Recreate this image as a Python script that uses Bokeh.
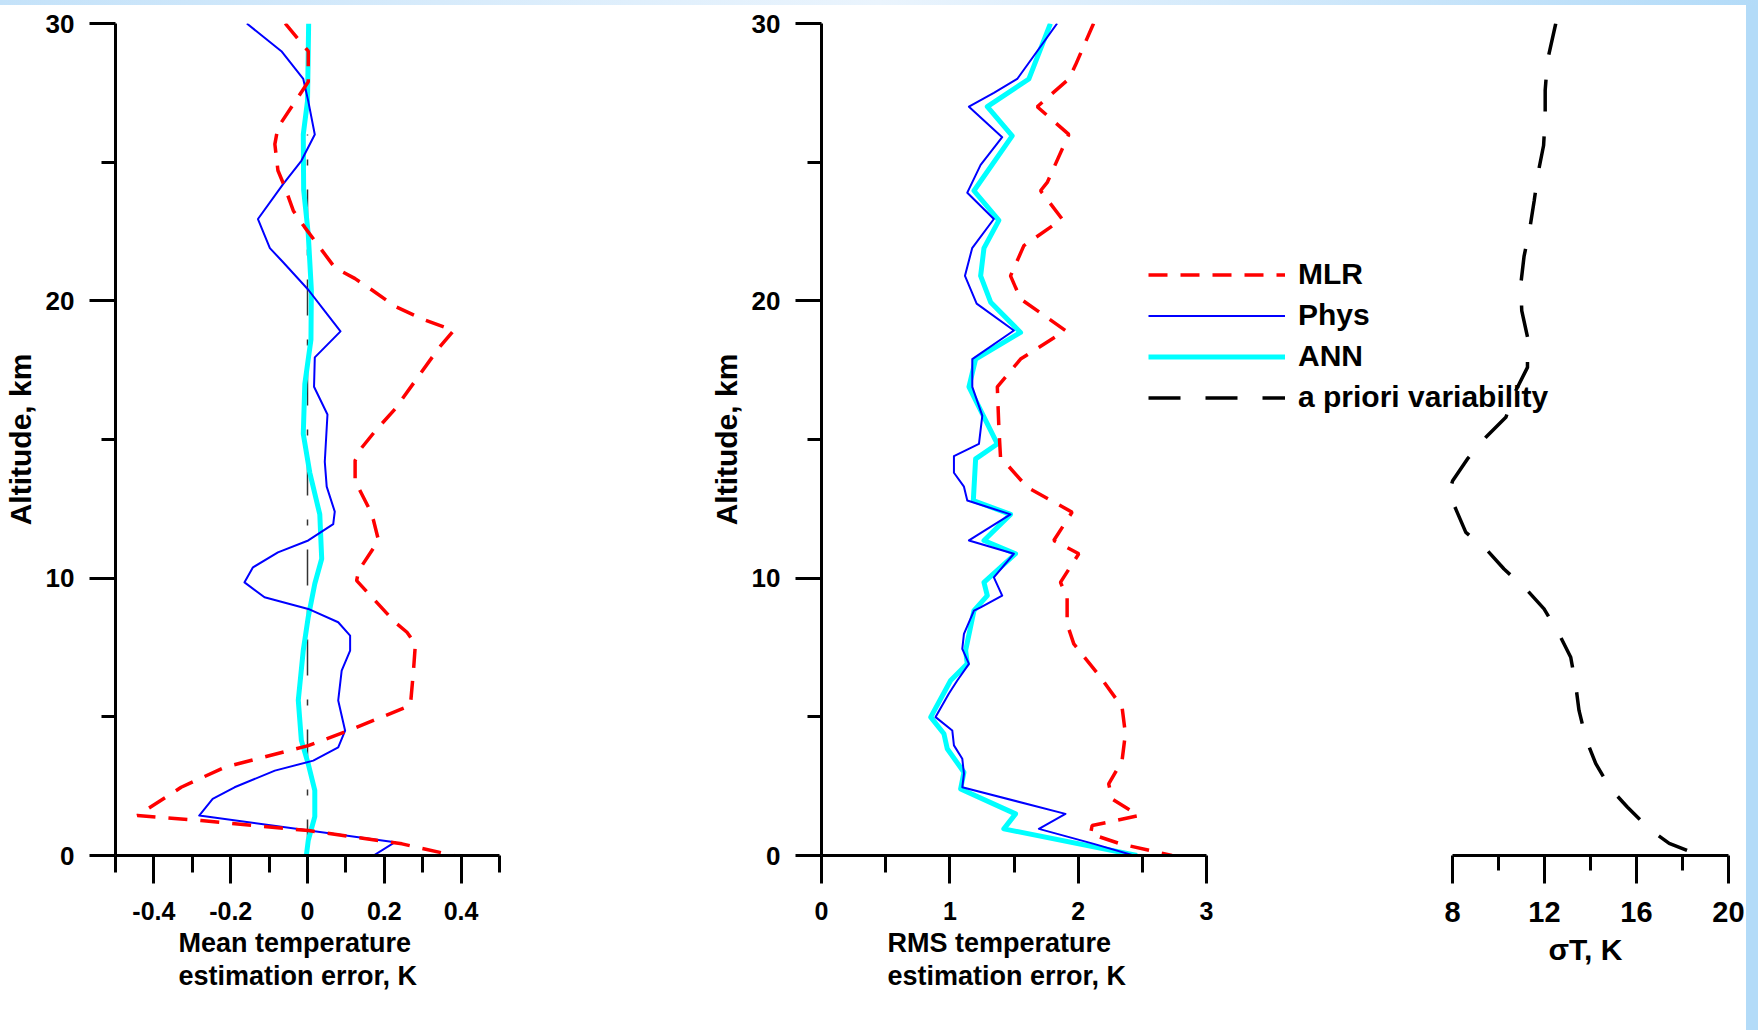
from bokeh.plotting import figure
from bokeh.models import Range1d, FixedTicker, Legend, LegendItem, Div, Title
from bokeh.layouts import row, column
from bokeh.embed import file_html
from bokeh.resources import INLINE

# ---------------- data ----------------
# Left panel: mean temperature estimation error (K) vs altitude (km)
mean_mlr_alt = [30.0, 29.0, 27.9, 26.25, 25.65, 24.7, 24.1, 23.25, 22.65, 21.2, 20.8, 20.4, 19.8,
                19.35, 18.93, 18.3, 16.1, 15.3, 14.7, 14.24, 13.5, 12.55, 12.08, 11.36, 10.27, 9.91,
                9.19, 8.41, 8.05, 7.63, 6.67, 5.41, 4.5, 3.96, 3.18, 2.46, 1.44, 1.26, 0.9, 0.42, 0.0]
mean_mlr_err = [-0.058, 0.002, 0.002, -0.077, -0.085, -0.077, -0.059, -0.037, -0.007, 0.071, 0.124,
                0.167, 0.228, 0.298, 0.381, 0.342, 0.228, 0.176, 0.141, 0.124, 0.124, 0.159, 0.172,
                0.185, 0.133, 0.128, 0.176, 0.228, 0.259, 0.281, 0.276, 0.268, 0.106, 0.002, -0.216,
                -0.329, -0.443, -0.277, 0.002, 0.246, 0.381]

mean_phys_alt = [30.0, 29.0, 28.0, 27.2, 26.0, 25.05, 24.2, 22.95, 21.9, 21.4, 20.4, 19.7, 18.9,
                 17.96, 16.9, 15.9, 14.2, 13.3, 12.4, 11.95, 11.36, 10.93, 10.39, 9.85, 9.31, 8.89,
                 8.41, 7.93, 7.39, 6.67, 5.59, 4.5, 3.9, 3.42, 3.06, 2.46, 2.04, 1.44, 0.48, 0.0]
mean_phys_err = [-0.158, -0.068, -0.011, 0.002, 0.019, -0.016, -0.064, -0.129, -0.098, -0.064,
                 0.002, 0.041, 0.086, 0.019, 0.017, 0.052, 0.045, 0.05, 0.071, 0.067, 0.002, -0.077,
                 -0.142, -0.164, -0.112, 0.002, 0.08, 0.111, 0.111, 0.089, 0.08, 0.098, 0.08, 0.015,
                 -0.085, -0.19, -0.247, -0.282, 0.228, 0.172]

mean_ann_alt = [30.0, 27.2, 26.0, 24.0, 22.4, 20.4, 18.6, 17.0, 15.2, 13.8, 12.3, 10.7, 9.8, 8.6,
                7.4, 5.6, 4.15, 3.3, 2.35, 1.4, 0.55, 0.0]
mean_ann_err = [0.003, 0.0, -0.011, -0.01, 0.002, 0.01, 0.009, -0.007, -0.011, 0.006, 0.032, 0.037,
                0.019, 0.002, -0.011, -0.024, -0.016, 0.002, 0.019, 0.019, 0.002, -0.003]

zero_line_alt = [0.0, 26.0]
zero_line_err = [0.0, 0.0]

# Middle panel: RMS temperature estimation error (K) vs altitude (km)
rms_mlr_alt = [30.0, 28.5, 28.0, 27.0, 26.0, 24.27, 23.97, 22.95, 21.99, 20.9, 20.07, 18.93, 17.9,
               16.9, 15.44, 14.36, 13.28, 12.38, 11.36, 10.88, 9.85, 9.31, 8.35, 7.63, 6.43, 5.35,
               4.39, 3.42, 2.58, 2.04, 1.44, 1.08, 0.78, 0.42, 0.0]
rms_mlr_err = [2.12, 1.979, 1.927, 1.681, 1.927, 1.759, 1.707, 1.875, 1.577, 1.473, 1.551, 1.901,
               1.551, 1.37, 1.382, 1.395, 1.603, 1.953, 1.81, 2.005, 1.862, 1.914, 1.914, 1.966,
               2.174, 2.342, 2.368, 2.342, 2.238, 2.264, 2.472, 2.109, 2.096, 2.329, 2.731]

rms_phys_alt = [30.0, 28.0, 27.5, 27.0, 25.9, 24.9, 23.9, 22.95, 21.9, 20.9, 19.9, 18.93, 17.9,
                16.9, 15.86, 14.84, 14.4, 13.8, 13.3, 12.8, 12.3, 11.36, 10.88, 10.03, 9.37, 8.95,
                8.83, 7.99, 7.45, 6.91, 6.31, 5.84, 4.99, 4.51, 3.97, 3.49, 2.95, 2.46, 1.5, 0.96,
                0.42, 0.0]
rms_phys_err = [1.836, 1.525, 1.343, 1.149, 1.408, 1.24, 1.136, 1.343, 1.174, 1.118, 1.209, 1.499,
                1.175, 1.175, 1.253, 1.227, 1.032, 1.032, 1.11, 1.136, 1.473, 1.149, 1.499, 1.343,
                1.408, 1.24, 1.188, 1.11, 1.097, 1.149, 1.058, 0.993, 0.889, 1.019, 1.032, 1.097,
                1.11, 1.097, 1.901, 1.694, 2.122, 2.433]

rms_ann_alt = [30.0, 28.0, 27.0, 25.95, 23.97, 22.9, 21.9, 20.9, 19.95, 18.86, 17.9, 16.9, 14.84,
               14.3, 12.8, 12.3, 11.36, 10.88, 9.85, 9.37, 8.83, 7.39, 6.91, 6.31, 4.99, 4.39,
               3.85, 3.0, 2.4, 1.5, 0.96, 0.0]
rms_ann_err = [1.784, 1.616, 1.292, 1.486, 1.188, 1.382, 1.266, 1.24, 1.318, 1.551, 1.201, 1.149,
               1.37, 1.201, 1.183, 1.473, 1.266, 1.512, 1.266, 1.292, 1.188, 1.123, 1.136, 1.006,
               0.851, 0.954, 0.98, 1.11, 1.084, 1.512, 1.421, 2.459]

# Right panel: a priori variability sigma T (K) vs altitude (km)
apriori_alt = [30.0, 28.66, 27.6, 26.6, 25.6, 24.6, 23.6, 22.65, 21.6, 20.6, 19.65, 18.7, 17.6,
               16.64, 15.8, 15.08, 14.3, 13.5, 13.04, 12.5, 11.65, 10.99, 10.33, 9.55, 8.89, 7.99,
               7.15, 6.13, 5.23, 4.21, 3.31, 2.4, 1.74, 0.96, 0.44, 0.0]
apriori_sigma = [12.49, 12.13, 12.03, 12.03, 11.96, 11.72, 11.55, 11.37, 11.11, 10.97, 11.01,
                 11.26, 11.26, 10.68, 10.32, 9.45, 8.65, 8.0, 7.85, 8.14, 8.58, 9.52, 10.24, 11.26,
                 11.98, 12.63, 13.14, 13.36, 13.5, 13.8, 14.23, 14.88, 15.61, 16.55, 17.42, 18.75]

# ticks
alt_ticks = [0, 10, 20, 30]
alt_minor = [5, 15, 25]
mean_ticks = [-0.4, -0.2, 0, 0.2, 0.4]
mean_tick_labels = ["-0.4", "-0.2", "0", "0.2", "0.4"]
mean_minor = [-0.5, -0.3, -0.1, 0.1, 0.3, 0.5]
rms_ticks = [0, 1, 2, 3]
rms_minor = [0.5, 1.5, 2.5]
sig_ticks = [8, 12, 16, 20]
sig_minor = [10, 14, 18]

legend_labels = ["MLR", "Phys", "ANN", "a priori variability"]

# ---------------- styling ----------------
FONT = "Liberation Sans"
H = 1025
TOP, BOTTOM = 18, 175
RED, BLUE, CYAN = "#ff0000", "#0000ff", "#00ffff"
MLR_DASH, APR_DASH = "19 13", "32 25"


def style_axis(ax, tick_out, minor_out, lab_size, ax_lab_size, lab_standoff, ax_standoff):
    ax.axis_line_width = 3
    ax.axis_line_color = "black"
    ax.major_tick_line_width = 3
    ax.minor_tick_line_width = 3
    ax.major_tick_line_color = "black"
    ax.minor_tick_line_color = "black"
    ax.major_tick_in = 0
    ax.minor_tick_in = 0
    ax.major_tick_out = tick_out
    ax.minor_tick_out = minor_out
    ax.major_label_text_font = FONT
    ax.major_label_text_font_style = "bold"
    ax.major_label_text_font_size = f"{lab_size}px"
    ax.major_label_text_color = "black"
    ax.major_label_standoff = lab_standoff
    ax.axis_label_text_font = FONT
    ax.axis_label_text_font_style = "bold"
    ax.axis_label_text_font_size = f"{ax_lab_size}px"
    ax.axis_label_text_color = "black"
    ax.axis_label_standoff = ax_standoff


def x_label(p, text, size, offset, standoff):
    # axis title placed under the tick labels, left edge at `offset` px from the frame's left
    p.add_layout(Title(text=text, align="left", offset=offset, vertical_align="top", standoff=standoff,
                       text_font=FONT, text_font_style="bold", text_font_size=f"{size}px",
                       text_color="black", text_line_height=1.1), "below")


def clean(p):
    p.xgrid.visible = False
    p.ygrid.visible = False
    p.outline_line_color = None
    p.background_fill_color = "white"
    p.border_fill_color = "white"


# ---------------- left panel ----------------
p1 = figure(width=560, height=H, x_range=Range1d(-0.5, 0.5), y_range=Range1d(0, 30),
            output_backend="svg", toolbar_location=None,
            min_border_left=114, min_border_right=61, min_border_top=TOP, min_border_bottom=BOTTOM)
clean(p1)
xa = p1.xaxis[0]
xa.ticker = FixedTicker(ticks=mean_ticks, minor_ticks=mean_minor)
xa.major_label_overrides = {v: s for v, s in zip(mean_ticks, mean_tick_labels)}
style_axis(xa, 28, 17, 25, 27, 18, 4)
x_label(p1, "Mean temperature\nestimation error, K", 27, 63, 10)

ya = p1.yaxis[0]
ya.ticker = FixedTicker(ticks=alt_ticks, minor_ticks=alt_minor)
ya.axis_label = "Altitude, km"
style_axis(ya, 26, 14, 26, 30, 15, 6)

p1.line(zero_line_err, zero_line_alt, line_color="#333333", line_width=1.5, line_dash="36 24 6 24")
p1.line(mean_ann_err, mean_ann_alt, line_color=CYAN, line_width=5, line_join="round")
p1.line(mean_phys_err, mean_phys_alt, line_color=BLUE, line_width=2, line_join="round")
p1.line(mean_mlr_err, mean_mlr_alt, line_color=RED, line_width=3.5, line_dash=MLR_DASH)

# ---------------- middle panel (frame widened to hold the legend keys) ----------------
P2_FRAME, RMS_AXIS_PX = 469, 385
p2 = figure(width=730, height=H, x_range=Range1d(0, 3 * P2_FRAME / RMS_AXIS_PX), y_range=Range1d(0, 30),
            output_backend="svg", toolbar_location=None,
            min_border_left=261, min_border_right=0, min_border_top=TOP, min_border_bottom=BOTTOM)
clean(p2)
xb = p2.xaxis[0]
xb.bounds = (0, 3)
xb.ticker = FixedTicker(ticks=rms_ticks, minor_ticks=rms_minor)
style_axis(xb, 28, 17, 25, 27, 18, 4)
x_label(p2, "RMS temperature\nestimation error, K", 27, 66, 10)

yb = p2.yaxis[0]
yb.ticker = FixedTicker(ticks=alt_ticks, minor_ticks=alt_minor)
yb.axis_label = "Altitude, km"
style_axis(yb, 26, 14, 26, 30, 15, 6)

r_ann = p2.line(rms_ann_err, rms_ann_alt, line_color=CYAN, line_width=5, line_join="round")
r_phys = p2.line(rms_phys_err, rms_phys_alt, line_color=BLUE, line_width=2, line_join="round")
r_mlr = p2.line(rms_mlr_err, rms_mlr_alt, line_color=RED, line_width=3.5, line_dash=MLR_DASH)
# legend key carrying the a priori style: a single (off-panel) point, so it draws nothing here
r_apr_key = p2.line(apriori_sigma[:1], apriori_alt[:1], line_color="black", line_width=3.5,
                    line_dash=APR_DASH)

key_legend = Legend(items=[LegendItem(label=" ", renderers=[r]) for r in (r_mlr, r_phys, r_ann, r_apr_key)],
                    location=(327, 439.5), glyph_width=137, glyph_height=37, label_height=37,
                    label_standoff=0, spacing=4, padding=0, margin=0,
                    border_line_color=None, background_fill_alpha=0,
                    label_text_font=FONT, label_text_font_size="1px")
p2.add_layout(key_legend)

# ---------------- right panel (frame widened left to hold the legend texts) ----------------
P3_FRAME, SIG_AXIS_PX = 438, 276
p3 = figure(width=456, height=H, x_range=Range1d(20 - 12 * P3_FRAME / SIG_AXIS_PX, 20),
            y_range=Range1d(0, 30), output_backend="svg", toolbar_location=None,
            y_axis_location=None,
            min_border_left=0, min_border_right=18, min_border_top=TOP, min_border_bottom=BOTTOM)
clean(p3)
xc = p3.xaxis[0]
xc.bounds = (8, 20)
xc.ticker = FixedTicker(ticks=sig_ticks, minor_ticks=sig_minor)
style_axis(xc, 28, 15, 29, 30, 18, 4)
x_label(p3, "σT, K", 30, 258, 17)

r_apr = p3.line(apriori_sigma, apriori_alt, line_color="black", line_width=3.5, line_dash=APR_DASH)

text_legend = Legend(items=[LegendItem(label=lab, renderers=[r_apr]) for lab in legend_labels],
                     location=(8, 439.5), glyph_width=0, glyph_height=37, label_height=37,
                     label_standoff=0, spacing=4, padding=0, margin=0,
                     border_line_color=None, background_fill_alpha=0,
                     label_text_font=FONT, label_text_font_style="bold", label_text_font_size="30px",
                     label_text_color="black")
p3.add_layout(text_legend)

# ---------------- light blue frame strips ----------------
top_strip = Div(text="", width=1758, height=5, margin=0,
                styles={"background": "linear-gradient(to right, #c4e2f9, #eaf4fd 50%, #b3dbf8)"})
right_strip = Div(text="", width=12, height=H, margin=0, styles={"background": "#b3dbf8"})

layout = column(top_strip, row(p1, p2, p3, right_strip))
open("out.html", "w").write(file_html(layout, INLINE))
